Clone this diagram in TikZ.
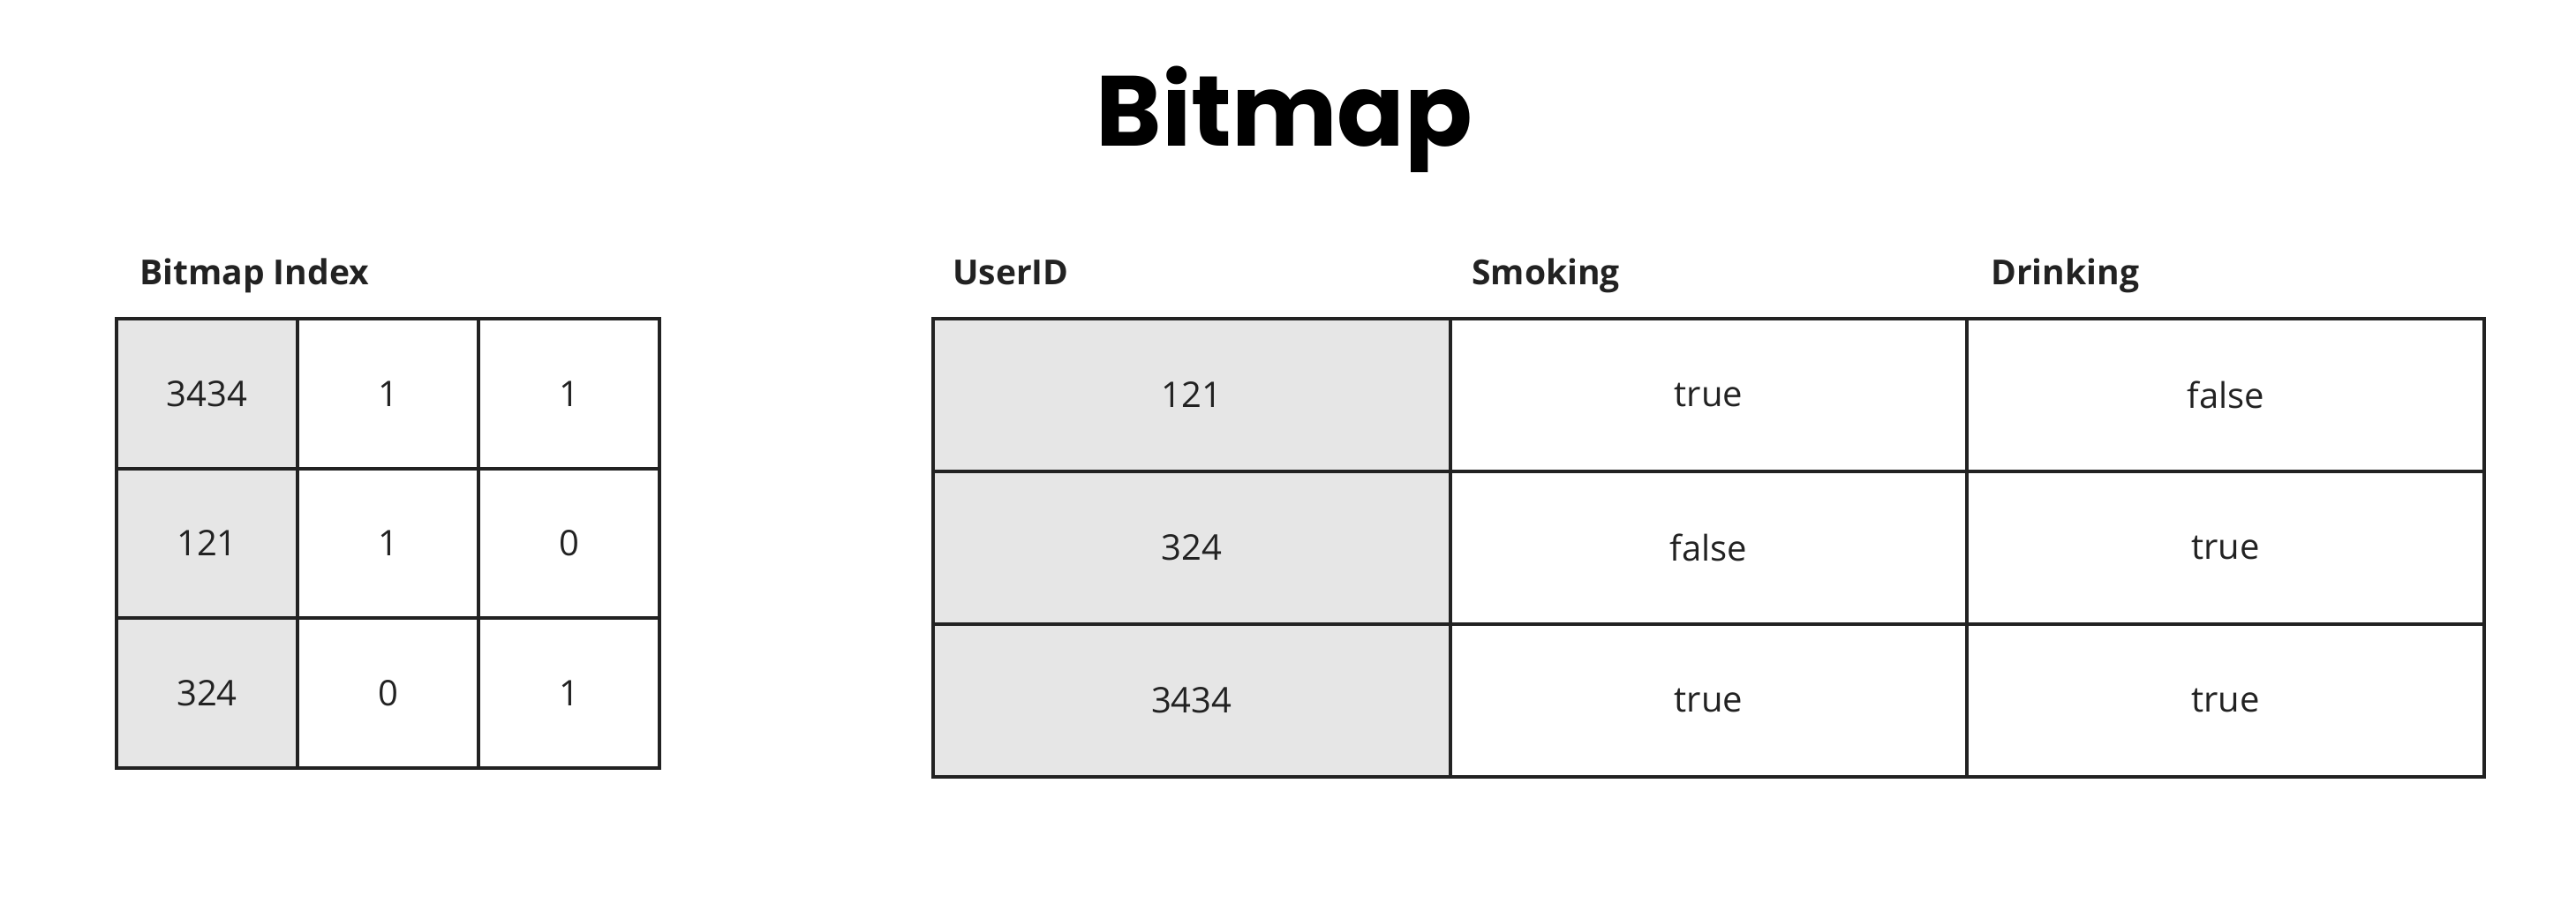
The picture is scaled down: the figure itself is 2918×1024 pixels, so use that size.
\documentclass[tikz,border=0pt]{standalone}
\usepackage{fontspec}
\setmainfont{Open Sans}
\newfontfamily\titlefont{Poppins}
\usepackage{xcolor}
\usetikzlibrary{positioning}
\definecolor{ink}{HTML}{222222}
\definecolor{keygray}{HTML}{E6E6E6}

\begin{document}
\begin{tikzpicture}[x=1pt,y=-1pt,
  cell/.style={rectangle,draw=ink,line width=4pt,inner sep=0pt,text=ink,font=\fontsize{40}{48}\selectfont},
  bmcell/.style={cell,minimum width=205pt,minimum height=169.5pt},
  tbcell/.style={cell,minimum width=585.7pt,minimum height=173pt},
  head/.style={anchor=base west,inner sep=0pt,text=ink,font=\fontsize{39}{46}\selectfont\bfseries}]
\useasboundingbox (0,0) rectangle (2918,1024);
\node[anchor=base,inner sep=0pt,font=\fontsize{113}{120}\titlefont\bfseries] (title) at (1455,166) {Bitmap};
% bitmap index
\node[head] (bmhead) at (158,323) {Bitmap Index};
\foreach \r/\k/\s/\d in %
{0/3434/1/1,1/121/1/0,2/324/0/1} {
   \node[bmcell,fill=keygray] (bm-\r-0) at (234.5,445.75+169.5*\r) {\k};
   \node[bmcell] (bm-\r-1) at (439.5,445.75+169.5*\r) {\s};
   \node[bmcell] (bm-\r-2) at (644.5,445.75+169.5*\r) {\d};
}
% user table
\node[head] (uhead) at (1079,323) {UserID};
\node[head] (shead) at (1667,323) {Smoking};
\node[head] (dhead) at (2255,323) {Drinking};
\foreach \r/\u/\s/\d in %
{0/121/true/false,1/324/false/true,2/3434/true/true} {
   \node[tbcell,fill=keygray] (tb-\r-0) at (1349.8,447.5+173*\r) {\u};
   \node[tbcell] (tb-\r-1) at (1935.5,447.5+173*\r) {\s};
   \node[tbcell] (tb-\r-2) at (2521.2,447.5+173*\r) {\d};
}
\end{tikzpicture}
\end{document}
